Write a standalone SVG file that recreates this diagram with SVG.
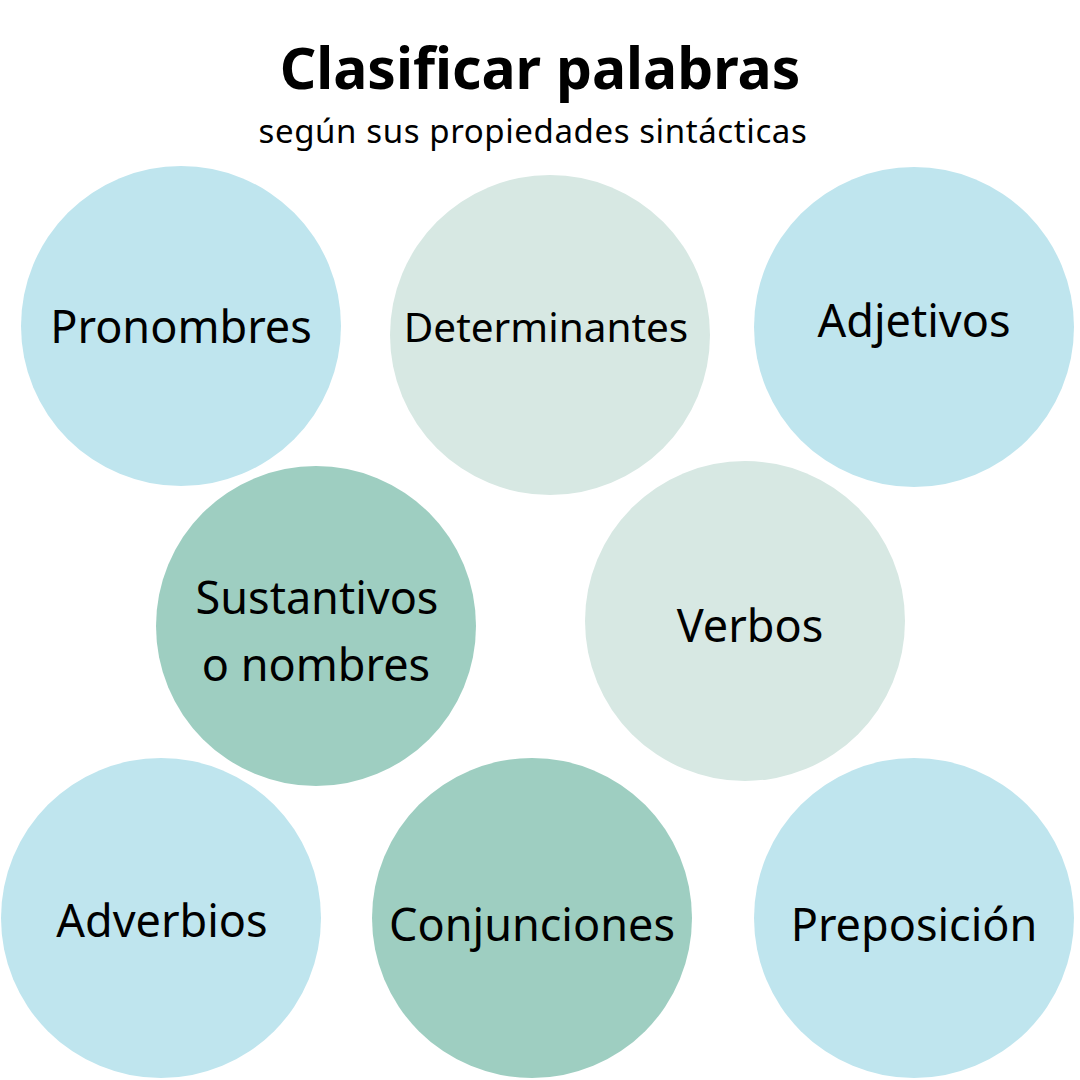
<svg xmlns="http://www.w3.org/2000/svg" width="1080" height="1080" viewBox="0 0 1080 1080">
<style>
.blue{fill:#BFE5EE}
.pale{fill:#D7E8E3}
.teal{fill:#9ECEC1}
.lbl{font-family:"Noto Sans","DejaVu Sans",sans-serif;font-size:45px;fill:#000;text-anchor:middle}
.title{font-family:"Noto Sans","DejaVu Sans",sans-serif;font-weight:bold;font-size:57px;fill:#000;text-anchor:middle}
.sub{font-family:"Noto Sans","DejaVu Sans",sans-serif;font-size:33px;letter-spacing:0.6px;fill:#000;text-anchor:middle}
</style>
<rect width="1080" height="1080" fill="#fff"/>
<g id="title">
<text class="title" x="540" y="89">Clasificar palabras</text>
<text class="sub" x="533" y="143">según sus propiedades sintácticas</text>
</g>
<g id="pronombres"><circle class="blue" cx="181" cy="326" r="160"/><text class="lbl" x="181" y="343">Pronombres</text></g>
<g id="determinantes"><circle class="pale" cx="550" cy="335" r="160"/><text class="lbl" x="546" y="342" style="font-size:40.5px">Determinantes</text></g>
<g id="adjetivos"><circle class="blue" cx="914" cy="327" r="160"/><text class="lbl" x="914" y="337">Adjetivos</text></g>
<g id="sustantivos"><circle class="teal" cx="316" cy="626" r="160"/><text class="lbl" x="317" y="614">Sustantivos</text><text class="lbl" x="316" y="681">o nombres</text></g>
<g id="verbos"><circle class="pale" cx="745" cy="621" r="160"/><text class="lbl" x="750" y="642">Verbos</text></g>
<g id="adverbios"><circle class="blue" cx="161" cy="918" r="160"/><text class="lbl" x="162" y="937">Adverbios</text></g>
<g id="conjunciones"><circle class="teal" cx="532" cy="918" r="160"/><text class="lbl" x="532" y="941">Conjunciones</text></g>
<g id="preposicion"><circle class="blue" cx="914" cy="918" r="160"/><text class="lbl" x="914" y="941">Preposición</text></g>
<g id="connectors"/>
</svg>
